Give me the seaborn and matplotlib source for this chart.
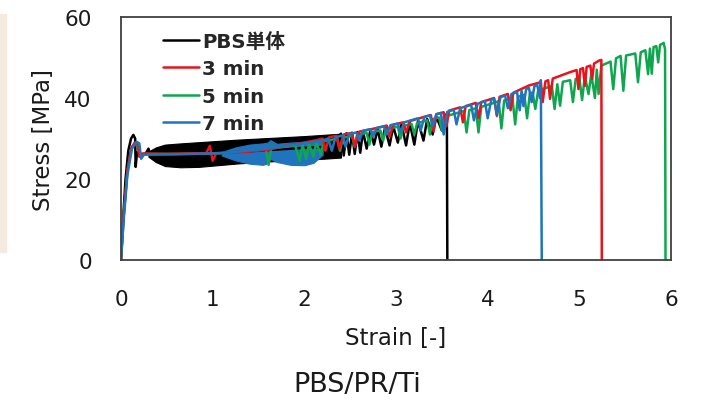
import matplotlib
matplotlib.use('Agg')
import matplotlib.pyplot as plt
import seaborn as sns
from matplotlib.patches import Rectangle

# stress-strain curves
pbs_strain = [0, 0.02, 0.05, 0.08, 0.11, 0.135, 0.155, 0.16, 0.175, 0.22, 0.27, 0.3, 0.32, 0.36,
              0.6, 1.0, 1.5, 2.0, 2.3,
              2.4, 2.43, 2.46, 2.49, 2.52, 2.55, 2.58, 2.61, 2.64, 2.68, 2.72, 2.76, 2.8, 2.84,
              2.88, 2.93, 2.97, 3.02, 3.06, 3.11, 3.15, 3.2, 3.24, 3.3, 3.34, 3.4, 3.44, 3.5,
              3.53, 3.545, 3.555, 3.56]
pbs_stress = [0, 9, 20, 27, 30, 30.9, 30, 23, 26.5, 26, 26.3, 27.5, 26, 26.3,
              26, 26.3, 27, 27.7, 28,
              31.2, 25.8, 31.3, 26, 31.4, 26.2, 31.6, 26.5, 31.8, 27.5, 32, 28.5, 32.3, 28,
              32.6, 28.3, 33, 29, 33.5, 28.3, 33.9, 28.5, 34.3, 29.5, 34.8, 31, 35.4, 32,
              36, 33.5, 35.5, 0]

# dense oscillation band of the neat PBS curve
pbs_band_strain = [0.3, 0.38, 0.48, 0.65, 0.85, 1.05, 1.25, 1.5, 1.75, 2.0, 2.2, 2.4]
pbs_band_upper = [26.8, 27.8, 28.5, 28.8, 29.1, 29.4, 29.7, 30.0, 30.3, 30.6, 30.9, 31.2]
pbs_band_lower = [25.5, 24.2, 23.2, 22.9, 23.0, 23.4, 23.8, 24.2, 24.5, 24.8, 25.0, 25.3]

m3_strain = [0, 0.03, 0.07, 0.11, 0.15, 0.18, 0.2, 0.23, 0.5, 0.93, 0.97, 1.0, 1.04,
             1.3, 1.6, 1.8, 2.0, 2.15,
             2.2, 2.23, 2.27, 2.35, 2.38, 2.43, 2.52, 2.55, 2.6, 2.75, 2.9, 2.93, 2.97,
             3.08, 3.11, 3.15, 3.3, 3.38, 3.41, 3.44, 3.52, 3.55, 3.58, 3.7, 3.73, 3.76,
             3.87, 3.9, 3.93, 4.07, 4.1, 4.13, 4.22, 4.25, 4.28, 4.45, 4.58, 4.6, 4.63,
             4.66, 4.68, 4.71, 4.9, 4.97, 4.99, 5.01, 5.04, 5.06, 5.08, 5.12, 5.14, 5.16,
             5.22, 5.24, 5.245]
m3_stress = [0, 11, 22, 27.5, 29, 28.8, 25.5, 26.3, 26.2, 26.4, 28.2, 24.5, 26.4,
             26.6, 27.2, 28.2, 29, 29.7,
             30, 27, 30.3, 30.7, 27.5, 31, 31.4, 28, 31.7, 32.4, 33.2, 30.5, 33.4,
             34, 31.5, 34.3, 35.3, 35.8, 31.8, 36, 36.5, 33, 36.9, 37.7, 34, 38,
             38.8, 35, 39, 40, 35.6, 40.3, 41, 37, 41.3, 43.1, 43.9, 39, 44.1,
             44.4, 39.8, 44.8, 46.4, 46.9, 42.2, 47.1, 47.4, 43, 47.7, 48, 44.7, 48.5,
             49.3, 49.4, 0]

m5_strain = [0, 0.03, 0.07, 0.12, 0.16, 0.19, 0.21, 0.25, 0.6, 1.0, 1.3, 1.58, 1.61, 1.64,
             1.7, 1.9, 1.95, 1.98, 2.02, 2.05, 2.1, 2.13, 2.18, 2.21,
             2.36, 2.39, 2.42, 2.52, 2.55, 2.58, 2.68, 2.71, 2.74, 2.83, 2.86, 2.89,
             3.02, 3.05, 3.08, 3.17, 3.2, 3.23, 3.34, 3.37, 3.4, 3.47, 3.5, 3.53,
             3.74, 3.77, 3.8, 3.87, 3.9, 3.93, 4.12, 4.15, 4.18, 4.27, 4.3, 4.33,
             4.4, 4.43, 4.46, 4.49, 4.52, 4.55, 4.7, 4.73, 4.76, 4.79, 4.82,
             4.9, 4.93, 4.96, 5.0, 5.03, 5.06, 5.1, 5.13, 5.17, 5.19, 5.21, 5.24,
             5.34, 5.37, 5.4, 5.45, 5.48, 5.51, 5.61, 5.64, 5.67,
             5.72, 5.75, 5.77, 5.79, 5.81, 5.84, 5.86, 5.88, 5.92, 5.935, 5.94]
m5_stress = [0, 11, 22, 28, 28.8, 27.5, 25.5, 26.2, 26.2, 26.3, 26.6, 27.5, 23.5, 27.7,
             27.7, 28.3, 24.5, 28.5, 25, 28.7, 25.5, 29, 26, 29.3,
             30, 27, 30.2, 30.7, 28, 30.9, 31.4, 28.5, 31.6, 32, 29.5, 32.3,
             32.9, 30, 33.1, 33.6, 31, 33.8, 34.5, 31, 34.8, 35.2, 32, 35.4,
             36.8, 31.5, 37, 37.5, 31.5, 37.8, 39.2, 32.5, 39.4, 40, 33.5, 40.3,
             40.8, 35, 41.1, 41.4, 37.3, 41.8, 43, 37.3, 43.4, 38.1, 44,
             44.4, 39, 44.7, 45, 39.5, 45.4, 41, 45.9, 40, 47, 41, 48,
             49, 42.2, 49.8, 50.4, 41.8, 50.5, 51, 43.9, 51.3,
             51.8, 45.9, 52.2, 46, 52.6, 52.8, 48.8, 53.1, 53.6, 52, 0]

m7_strain = [0, 0.03, 0.07, 0.12, 0.17, 0.2, 0.22, 0.25, 0.6, 1.1, 1.6, 2.2,
             2.26, 2.3, 2.34, 2.42, 2.45, 2.49, 2.57, 2.6, 2.64, 2.72, 2.75, 2.79,
             2.87, 2.9, 2.94, 3.02, 3.05, 3.09, 3.24, 3.27, 3.31, 3.37, 3.4, 3.44,
             3.49, 3.52, 3.56, 3.63, 3.66, 3.7, 3.82, 3.85, 3.89, 3.97, 4.0, 4.04,
             4.07, 4.1, 4.14, 4.19, 4.22, 4.26, 4.32, 4.35, 4.37, 4.39, 4.42,
             4.45, 4.48, 4.51, 4.54, 4.57, 4.58, 4.59]
m7_stress = [0, 10, 21, 27.5, 29.2, 28.8, 25, 26, 26.1, 26.4, 27.5, 29.5,
             30, 27, 30.3, 30.8, 28, 31.1, 31.5, 29.5, 31.9, 32.3, 30.5, 32.6,
             33, 31, 33.3, 33.7, 31.5, 34, 35, 32, 35.3, 35.7, 33, 36,
             36.3, 31, 36.6, 37.1, 33.5, 37.5, 38.3, 34.5, 38.6, 39.2, 35, 39.6,
             39.8, 36, 40.2, 40.6, 37.5, 41, 41.5, 37, 41.8, 38, 42.2,
             42.5, 39, 42.9, 43.3, 40, 44.4, 0]

# dense oscillation band of the 7 min curve
m7_band_strain = [1.1, 1.25, 1.4, 1.55, 1.6, 1.63, 1.7, 1.85, 2.0, 2.1, 2.2]
m7_band_upper = [26.7, 27.8, 28.5, 28.8, 29.0, 29.6, 28.7, 29.0, 29.2, 29.4, 29.8]
m7_band_lower = [25.8, 24.6, 23.8, 23.5, 23.9, 25.0, 24.2, 23.5, 23.4, 24.0, 26.0]

labels = ['PBS単体', '3 min', '5 min', '7 min']
colors = ['#000000', '#e8131b', '#0fa64e', '#1f74bd']

sns.set_theme(style='white')
plt.rcParams['font.family'] = ['DejaVu Sans', 'Noto Sans CJK JP']

fig = plt.figure(figsize=(7.07, 4.06), dpi=100)
ax = fig.add_axes([0.1711, 0.3571, 0.778, 0.5985])

# cropped strip at the left edge of the original slide
fig.patches.append(Rectangle((0, 1 - 253 / 406), 6 / 707, 238 / 406,
                             transform=fig.transFigure, color='#f4eadf', zorder=0))

lw = 1.8
handles = {}

ax.fill_between(pbs_band_strain, pbs_band_lower, pbs_band_upper, color=colors[0], lw=0.8)
sns.lineplot(x=pbs_strain, y=pbs_stress, sort=False, estimator=None, color=colors[0], lw=lw, ax=ax)
handles[0] = ax.lines[-1]

sns.lineplot(x=m5_strain, y=m5_stress, sort=False, estimator=None, color=colors[2], lw=lw, ax=ax)
handles[2] = ax.lines[-1]

sns.lineplot(x=m3_strain, y=m3_stress, sort=False, estimator=None, color=colors[1], lw=lw, ax=ax)
handles[1] = ax.lines[-1]

ax.fill_between(m7_band_strain, m7_band_lower, m7_band_upper, color=colors[3], lw=0.8)
sns.lineplot(x=m7_strain, y=m7_stress, sort=False, estimator=None, color=colors[3], lw=lw, ax=ax)
handles[3] = ax.lines[-1]

ax.set_xlim(0, 6)
ax.set_ylim(0, 60)
ax.set_xticks(range(7))
ax.set_yticks([0, 20, 40, 60])
ax.tick_params(direction='in', length=5, width=1.1, color='#404040',
               labelsize=15.5, labelcolor='#1a1a1a', pad=21)
for s in ax.spines.values():
    s.set_color('#404040')
    s.set_linewidth(1.3)

ax.set_xlabel('Strain [-]', fontsize=16.5, color='#1a1a1a', labelpad=12)
ax.set_ylabel('Stress [MPa]', fontsize=16.5, color='#1a1a1a', labelpad=7)

leg = ax.legend([handles[i] for i in range(4)], labels, loc='upper left',
                bbox_to_anchor=(0.0764, 0.94), frameon=False, borderpad=0, borderaxespad=0,
                handlelength=1.84, handletextpad=0.15, labelspacing=0.43,
                prop={'family': ['DejaVu Sans', 'Noto Sans CJK JP'], 'weight': 'bold', 'size': 14.2})

fig.text(0.506, 0.0352, 'PBS/PR/Ti', ha='center', va='baseline', fontsize=19.5, color='#1a1a1a')

fig.savefig('out.png', dpi=100)
